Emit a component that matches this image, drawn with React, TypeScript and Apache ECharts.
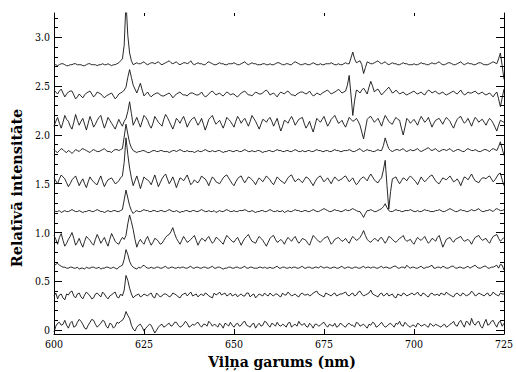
import React, { useEffect, useRef } from "react";
import * as echarts from "echarts";

// wavelength start (nm); integer-nm readings plus half-nm readings in between
const startNm = 600;

// baseline (relative intensity) of each spectrum, bottom to top
const offsets = [0.03, 0.35, 0.635, 0.91, 1.215, 1.52, 1.83, 2.12, 2.41, 2.72];

// deviations from baseline, in hundredths, read at 600, 601, ... 725 nm
const t0 = [
  -5, 4, 2, 7, -1, 6, 1, 8, 3, -2,
  5, 7, 0, 4, 6, -1, 3, 1, 4, 7,
  16, 9, -2, 0, 3, -4, 1, 2, -6, 0,
  3, 1, 4, 2, 5, 0, 3, 4, 1, 2,
  5, 0, 3, 6, 1, 2, 4, -1, 3, 5,
  0, 4, 2, 6, 1, 3, -1, 4, 2, 5,
  0, 3, 5, 1, 2, 4, 0, 3, 6, 2,
  1, 4, -1, 3, 2, 5, 0, 2, 4, 1,
  3, 0, 4, 2, 5, 1, 3, -1, 2, 4,
  1, 5, 0, 3, 2, 4, 6, 1, 3, 0,
  2, 4, 1, 3, 0, 2, 3, 1, 2, 0,
  3, 6, 1, 7, 0, 5, 9, 2, 6, -1,
  8, 3, 7, 0, 6, 4,
];
const t1 = [
  0, -3, 2, -4, 1, 5, -2, 3, -3, 4,
  0, -2, 3, -1, 2, -3, 1, 4, -2, 0,
  21, 8, -2, 1, -1, 2, 0, 3, -2, 1,
  0, 2, -1, 3, 1, -2, 2, 0, 4, 1,
  -1, 2, 3, 0, -2, 1, 4, 2, 0, 3,
  1, -1, 2, 0, 3, 1, -2, 2, 0, 1,
  3, 0, 2, -1, 1, 4, 0, 2, -1, 3,
  1, 0, 3, 5, 1, -1, 2, 0, 3, 1,
  2, 4, 0, 3, 1, 5, 0, 2, 6, 1,
  -1, 3, 1, 0, 2, -2, 1, 3, 0, 2,
  1, 4, 0, 2, -1, 3, 1, 0, 2, 4,
  1, -1, 3, 0, 2, 1, 5, 0, 3, 1,
  2, 0, 4, 1, 3, 2,
];
const t2 = [
  2, 5, 2, 1, 0, 1, 0, -1, 0, 1,
  0, 1, 0, -1, 0, 1, 0, 0, 1, 3,
  19, 7, 1, -1, 0, 3, 0, 1, 0, 1,
  0, 2, 0, 1, 0, 0, 1, 0, 2, 0,
  1, 0, 1, 0, 2, 0, 1, -1, 0, 1,
  0, 1, 0, 2, 0, 1, 0, 1, 0, 0,
  1, 0, 2, 0, 1, 0, 0, 1, 0, 2,
  0, 1, 0, 1, 2, 0, 1, 0, 1, 0,
  2, 0, 1, 0, 1, 0, 2, 1, 0, 1,
  0, 2, 1, 0, 1, 2, 0, 1, 3, 0,
  1, 0, 2, 0, 1, 3, 0, 1, 2, 0,
  1, 2, 0, 1, 0, 2, 1, 3, 0, 1,
  2, 0, 1, 3, 4, -2,
];
const t3 = [
  6, -3, 8, -5, 2, 9, -4, 3, -6, 5,
  1, -4, 7, -2, 4, -5, 8, 0, -3, 4,
  6, 27, 12, -6, 2, -3, 5, -4, 3, 0,
  -2, 4, 7, 14, 3, -3, 5, -1, 2, 6,
  -4, 3, 0, 5, -2, 4, 1, -3, 6, 2,
  -1, 4, -4, 3, 7, 0, -2, 5, 1, -5,
  3, 6, -1, 2, -3, 4, 0, 5, -2, 3,
  1, -4, 6, 2, -1, 3, 5, -3, 2, 4,
  0, 3, -2, 5, 1, 4, 11, 2, -1, 3,
  0, 4, -2, 5, 2, -1, 3, 6, 0, 2,
  -3, 4, 1, 5, -2, 3, 0, 6, -6, 2,
  4, -1, 3, 5, 0, 2, -3, 4, 6, 1,
  3, -2, 5, 7, 0, 4,
];
const t4 = [
  1, 0, -1, 1, 0, 2, 0, 1, -1, 0,
  1, 0, 2, 0, -1, 1, 0, 1, 0, 2,
  22, 6, -2, 1, 0, 2, 1, 0, 1, 0,
  1, 0, 2, 0, 1, -1, 0, 1, 0, 1,
  0, 2, 0, 1, 0, -1, 1, 0, 2, 0,
  1, 0, 1, 2, 0, 1, -1, 0, 1, 0,
  2, 0, 1, 0, -1, 1, 0, 2, 1, 0,
  1, 0, 2, 0, 1, 3, 1, 0, 2, 1,
  0, 2, 1, 3, 1, 0, -6, 1, 2, 0,
  1, 3, 8, 1, 0, 2, 1, 0, 1, 2,
  0, 1, 0, 2, 1, 0, 1, 2, 0, 1,
  3, 1, 0, 2, 1, 0, 2, 1, 3, 0,
  1, 2, 0, 3, 1, 2,
];
const t5 = [
  4, -2, 7, 3, -5, 2, 6, -4, 3, -6,
  5, 0, -3, 6, -5, 2, 4, -2, 1, 6,
  45, 14, -4, 6, -7, 5, 2, -3, 7, -5,
  3, 8, -2, 5, -6, 4, 1, 7, -3, 2,
  -1, 6, 3, -4, 5, 0, -2, 4, 7, 1,
  -4, 3, 6, -1, 5, 2, -3, 4, 0, 6,
  2, -3, 5, 1, -2, 4, 7, 0, 3, -1,
  5, 2, -4, 3, 6, 0, 4, -2, 5, 1,
  3, 6, 0, 4, -3, 2, 5, 1, 8, 2,
  -1, 4, 22, -28, 3, 5, -2, 4, 1, 6,
  2, -3, 5, 0, 4, 7, 1, -2, 4, 2,
  6, 0, 3, -4, 5, 2, 8, 1, -1, 4,
  3, 6, 0, 5, 9, -4,
];
const t6 = [
  2, -1, 3, 0, 1, -2, 2, 0, 3, 1,
  -1, 2, 0, 1, 3, 0, -1, 2, 1, 3,
  28, 9, 1, -1, 0, 1, -1, 0, 1, 0,
  1, 0, -1, 1, 0, 2, 0, 1, 0, -1,
  1, 0, 2, 0, 1, 0, 1, -1, 0, 1,
  0, 1, 0, 2, 0, 1, 0, 1, -1, 0,
  1, 0, 2, 1, 0, 1, 0, 2, 0, 1,
  0, 1, 0, 2, 1, 0, 1, 0, 2, 1,
  0, 1, 2, 0, 1, 3, 0, 2, 1, 0,
  2, 1, 14, 3, 0, 2, 1, 3, 0, 2,
  1, 3, 0, 2, 4, 1, 3, 0, 2, 1,
  3, 0, 2, 1, 0, 3, 1, 2, 0, 1,
  2, 0, 3, 1, 10, -4,
];
const t7 = [
  -3, 6, -5, 8, 2, -6, 9, -2, 5, -7,
  7, -4, 3, 8, -5, 6, 0, -6, 4, -3,
  5, 22, -2, 6, -4, 8, 3, -5, 7, 1,
  -3, 9, 2, -6, 5, 0, 7, -4, 3, 6,
  -2, 5, -7, 4, 8, -1, 3, -5, 6, 2,
  -4, 7, 0, 5, -3, 8, 2, -6, 4, 1,
  6, -3, 5, -8, 3, 0, 7, -2, 4, 6,
  -5, 2, -9, 5, 1, 7, -3, 4, 8, 0,
  3, -4, 6, 2, 5, -2, -16, 4, 7, 1,
  5, -3, 8, 2, -1, 6, 3, -12, 5, 0,
  4, -2, 7, 1, 6, -4, 3, 5, -1, 6,
  2, -5, 4, 7, 0, 5, -3, 6, 1, 4,
  -2, 5, 0, -8, 3, 1,
];
const t8 = [
  5, 1, 6, -2, 3, 4, -4, 1, -3, 2,
  4, -2, 3, 1, -3, 0, 2, -4, 1, 3,
  8, 26, 10, 2, 12, -1, 3, -2, 1, 2,
  -1, 0, 2, -3, 1, 3, 0, -1, 2, 1,
  0, 3, -2, 1, 4, 0, 2, -1, 3, 0,
  1, -2, 2, 4, 0, -1, 3, 1, 2, 5,
  0, 2, -2, 3, 1, 4, 0, -1, 2, 3,
  1, 4, -1, 2, 0, 3, 5, 1, 3, 6,
  2, 4, 20, -21, 5, 2, 7, 1, 14, 3,
  6, 0, 4, 8, 2, 5, 1, 3, 0, 2,
  4, 1, 3, 0, 5, 2, 4, 1, 3, 0,
  2, 4, 1, 5, 0, 3, 2, 4, 1, 3,
  0, 2, -2, 3, -12, 6,
];
const t9 = [
  0, -1, 1, 0, -1, 0, 1, 0, -1, 0,
  1, 0, -1, 0, 0, 1, -1, 0, 2, 6,
  65, 12, 0, 2, 1, 3, 0, 2, 1, 3,
  0, 2, 4, 1, 3, 0, 2, 1, 4, 0,
  2, 1, 0, 3, 1, 0, 2, 1, 0, 1,
  2, 0, 1, 3, 0, 2, 1, 0, 1, 0,
  1, 0, 2, 1, 0, 1, 0, 3, 1, 0,
  1, 0, 2, 0, 1, 0, 1, 2, 0, 1,
  0, 2, 1, 13, 2, 4, -9, 3, 1, 2,
  4, 1, 3, 0, 2, 1, 0, 2, 1, 0,
  1, 0, 2, 1, 0, 2, 1, 3, 0, 1,
  2, 0, 1, 3, 0, 2, 1, 0, 2, 1,
  0, 1, 3, 1, 12, -15,
];

// deviations read at the half-nm points 600.5, 601.5, ... 724.5
const h0 = [
  1, 5, 3, 2, 4, 0, 5, 6, -1, 2,
  8, 3, 2, 7, 1, 4, -1, 5, 6, 10,
  12, 2, -4, 2, 0, -1, 3, -2, -3, 2,
  0, 3, 1, 5, 2, 1, 6, 0, 3, 4,
  2, 3, 1, 4, 3, 0, 2, 4, 1, 2,
  3, 1, 5, 2, 0, 4, 2, 1, 6, 2,
  4, 1, 2, 3, 0, 5, 2, 1, 3, 4,
  0, 2, 3, 1, 4, 2, 3, 1, 0, 4,
  1, 3, 2, 0, 4, 2, 1, 3, 5, 0,
  3, 2, 1, 4, 0, 3, 2, 5, 1, 2,
  0, 3, 2, 1, 4, 1, 2, 0, 3, 1,
  4, 2, 5, 3, 6, 2, 4, 5, 1, 4,
  2, 6, 3, 5, 1,
];
const h1 = [
  3, 1, -2, 2, 4, 0, 2, -1, 1, 2,
  -3, 2, 1, 4, -1, 0, 3, -1, 2, 6,
  16, 2, 0, 2, 0, 1, 2, -1, 3, -1,
  2, 1, 0, 2, -1, 1, 3, 2, 0, 2,
  1, 0, 2, -1, 3, 2, 1, 3, 1, 0,
  2, 1, 0, 3, -1, 2, 0, 1, 3, 0,
  1, 2, 0, 3, 1, 2, 1, 0, 2, 1,
  2, 1, 4, 2, 0, 3, 1, 2, 0, 2,
  3, 1, 2, 0, 4, 2, 1, 3, 2, 0,
  2, 0, 3, 1, -1, 2, 0, 2, 1, 3,
  2, 1, 3, 0, 2, 1, 2, 3, 1, 2,
  0, 2, 1, 3, 0, 2, 3, 1, 2, 0,
  3, 1, 2, 0, 2,
];
const h2 = [
  4, 3, 1, 0, 1, 0, 1, 0, -1, 0,
  1, 0, 1, 0, 1, 0, 1, -1, 2, 9,
  14, 3, 0, 1, 2, 1, 0, 0, 1, 0,
  1, 0, 1, 0, 1, 1, 0, 1, 0, 1,
  0, 1, 0, 1, 0, 1, 0, 0, 1, 0,
  1, 0, 1, 0, 1, 0, 0, 1, 1, 0,
  0, 1, 0, 1, 0, 1, 1, 0, 1, 0,
  1, 0, 1, 0, 1, 1, 0, 1, 0, 1,
  0, 1, 0, 1, 0, 1, 0, 1, 1, 0,
  1, 0, 1, 0, 2, 0, 1, 0, 1, 1,
  0, 1, 0, 1, 2, 0, 1, 0, 1, 0,
  2, 0, 1, 0, 1, 0, 2, 1, 0, 2,
  0, 1, 2, 0, 3,
];
const h3 = [
  2, 4, 1, -2, 5, 3, -1, -2, 0, 3,
  -2, 2, 3, 1, -1, 2, 4, -2, 1, 2,
  18, 20, 2, -1, -1, 2, 0, -1, 2, -3,
  1, 6, 10, 8, 0, 1, 2, 0, 4, 1,
  0, 2, 3, 1, 0, 3, -1, 2, 4, 0,
  2, 0, 0, 5, 3, -1, 2, 3, -2, -1,
  5, 2, 0, 0, 1, 2, 3, 1, 0, 2,
  -2, 1, 4, 0, 1, 4, 1, -1, 3, 2,
  1, 0, 2, 3, 2, 7, 6, 0, 1, 2,
  3, 1, 1, 4, 0, 1, 4, 2, 1, -1,
  1, 2, 3, 1, 0, 2, 4, 0, -2, 3,
  1, 2, 4, 2, 1, 0, 1, 5, 3, 2,
  0, 2, 6, 3, 2,
];
const h4 = [
  0, 1, 0, 0, 1, 1, 0, 0, 0, 1,
  0, 1, 1, 0, 0, 0, 1, 0, 1, 12,
  14, 1, 0, 0, 1, 1, 0, 1, 0, 1,
  0, 1, 1, 0, 0, 0, 1, 0, 1, 0,
  1, 1, 0, 0, 1, 0, 0, 1, 1, 0,
  0, 1, 1, 1, 0, 0, 0, 1, 0, 1,
  1, 0, 0, 1, 0, 0, 1, 1, 0, 1,
  0, 1, 1, 0, 2, 2, 0, 1, 1, 0,
  1, 1, 2, 2, 0, -3, -2, 1, 1, 0,
  2, 5, 4, 0, 1, 1, 0, 1, 1, 1,
  0, 0, 1, 1, 0, 0, 1, 1, 0, 2,
  2, 0, 1, 1, 0, 1, 1, 2, 1, 0,
  1, 1, 2, 2, 1,
];
const h5 = [
  1, 3, 5, -1, -2, 4, 1, 0, -2, 0,
  2, -2, 2, 0, -1, 3, 1, -1, 4, 20,
  28, 4, 1, 0, -1, 3, 0, 2, 1, -1,
  6, 3, 1, 0, -1, 3, 4, 2, -1, 0,
  2, 4, 0, 1, 3, -1, 1, 6, 4, -2,
  0, 5, 2, 2, 4, 0, 1, 2, 3, 4,
  -1, 1, 3, 0, 1, 6, 3, 2, 1, 2,
  4, -1, 0, 5, 3, 2, 1, 2, 3, 2,
  5, 3, 2, 0, -1, 4, 3, 5, 5, 0,
  2, 12, -4, -10, 4, 1, 1, 3, 4, 4,
  0, 1, 2, 2, 6, 4, -1, 1, 3, 4,
  3, 1, 0, 1, 4, 5, 4, 0, 2, 4,
  5, 3, 2, 8, 2,
];
const h6 = [
  0, 1, 2, -1, 0, 0, 1, 2, 2, 0,
  1, 1, 0, 2, 1, 0, 1, 2, 2, 15,
  18, 4, 0, 0, 1, 0, -1, 1, 0, 1,
  0, 0, 0, 1, 1, 1, 0, 0, 0, 0,
  0, 1, 1, 0, 0, 1, 0, 0, 1, 0,
  1, 0, 1, 1, 0, 0, 1, 0, 0, 1,
  0, 1, 1, 0, 1, 0, 1, 1, 0, 0,
  1, 0, 1, 1, 0, 1, 0, 1, 1, 0,
  1, 1, 1, 0, 2, 1, 1, 1, 0, 1,
  1, 6, 8, 1, 1, 2, 2, 1, 1, 1,
  2, 1, 1, 3, 2, 2, 1, 1, 2, 2,
  1, 1, 2, 0, 2, 2, 1, 1, 0, 2,
  1, 2, 2, 5, 3,
];
const h7 = [
  2, 0, 1, 4, -3, 1, 3, 2, -1, 0,
  2, -1, 6, 1, 0, 3, -3, -1, 0, 2,
  12, 10, 2, 1, 2, 6, -2, 0, 4, -1,
  4, 6, -2, -1, 3, 4, 2, 0, 5, 2,
  1, -1, -2, 6, 3, 1, -1, 0, 4, -1,
  2, 4, 3, 1, 2, 5, -2, -1, 3, 4,
  2, 1, -2, -3, 2, 4, 3, 1, 5, 0,
  -2, -4, -2, 3, 4, 2, 0, 6, 4, 1,
  -1, 1, 4, 3, 2, -9, -6, 6, 4, 3,
  1, 3, 5, 0, 3, 4, -5, -4, 3, 2,
  1, 3, 4, 3, 1, 0, 4, 2, 3, 4,
  -2, 0, 6, 3, 2, 1, 2, 4, 3, 1,
  2, 3, -4, -2, 2,
];
const h8 = [
  3, 4, 2, 1, 4, 0, -2, -1, 0, 3,
  1, 0, 2, -1, -1, 1, -1, -2, 2, 5,
  18, 18, 6, 7, 5, 1, 0, 0, 2, 0,
  -1, 1, 0, -1, 2, 1, 0, 1, 2, 0,
  1, 0, -1, 3, 2, 1, 0, 1, 2, 1,
  -1, 0, 3, 2, 0, 1, 2, 1, 4, 3,
  1, 0, 1, 2, 3, 2, 0, 1, 3, 2,
  2, 1, 0, 1, 2, 4, 3, 2, 4, 4,
  3, 10, 0, -6, 4, 5, 4, 8, 9, 5,
  3, 2, 6, 5, 3, 3, 2, 1, 1, 3,
  2, 2, 1, 3, 4, 3, 2, 2, 1, 1,
  3, 2, 3, 2, 1, 2, 3, 2, 2, 1,
  1, 0, 1, -4, -3,
];
const h9 = [
  0, 0, 1, -1, 0, 1, 0, 0, -1, 1,
  0, 0, 0, 1, 0, 0, 0, 1, 4, 20,
  30, 4, 1, 1, 2, 1, 1, 2, 2, 1,
  1, 3, 2, 2, 1, 1, 2, 2, 1, 1,
  1, 0, 2, 2, 0, 1, 1, 0, 1, 1,
  1, 0, 2, 1, 1, 1, 0, 0, 1, 0,
  0, 1, 2, 0, 1, 0, 2, 2, 0, 1,
  0, 1, 1, 0, 0, 1, 1, 1, 0, 0,
  1, 1, 7, 6, 3, 0, -3, 2, 1, 3,
  2, 2, 1, 1, 1, 0, 1, 1, 0, 0,
  0, 1, 1, 0, 1, 1, 2, 1, 0, 2,
  1, 0, 2, 1, 1, 1, 0, 1, 2, 0,
  0, 2, 2, 6, -1,
];
const whole = [t0, t1, t2, t3, t4, t5, t6, t7, t8, t9];
const halves = [h0, h1, h2, h3, h4, h5, h6, h7, h8, h9];

const xTicks = [600, 625, 650, 675, 700, 725];
const yMajor = [0, 0.5, 1.0, 1.5, 2.0, 2.5, 3.0];
const yMinor = [0.1, 0.2, 0.3, 0.4, 0.6, 0.7, 0.8, 0.9, 1.1, 1.2, 1.3, 1.4, 1.6, 1.7, 1.8, 1.9, 2.1, 2.2, 2.3, 2.4, 2.6, 2.7, 2.8, 2.9, 3.1, 3.2];
const xTitle = "Viļņa garums (nm)";
const yTitle = "Relatīvā intensitāte";

const SERIF = "DejaVu Serif";
const SERIF_NARROW = "DejaVu Serif Condensed, DejaVu Serif";
const YMIN = -0.04;
const YMAX = 3.25;

function buildTrace(k: number): number[][] {
  const out: number[][] = [];
  const w = whole[k];
  const h = halves[k];
  for (let i = 0; i < w.length; i++) {
    out.push([startNm + i, offsets[k] + w[i] / 100]);
    if (i < h.length) out.push([startNm + i + 0.5, offsets[k] + h[i] / 100]);
  }
  return out;
}

export default function App() {
  const ref = useRef<HTMLDivElement>(null);
  useEffect(() => {
    if (!ref.current) return;
    const chart = echarts.init(ref.current, null, { renderer: "svg" });
    const yBase = {
      type: "value",
      min: YMIN,
      max: YMAX,
      splitLine: { show: false },
    };
    const majorAxis = (pos: string, labels: boolean) => ({
      ...yBase,
      position: pos,
      axisLine: { show: true, lineStyle: { color: "#000", width: 1 } },
      axisTick: { show: true, inside: true, length: 8, customValues: yMajor, lineStyle: { color: "#000" } },
      axisLabel: {
        show: labels,
        customValues: yMajor,
        margin: 4,
        fontFamily: SERIF_NARROW,
        fontSize: 10.5,
        color: "#000",
        formatter: (v: number) => (v === 0 ? "0" : v.toFixed(1)),
      },
    });
    const minorAxis = (pos: string) => ({
      ...yBase,
      position: pos,
      axisLine: { show: false },
      axisTick: { show: true, inside: true, length: 4, customValues: yMinor, lineStyle: { color: "#000" } },
      axisLabel: { show: false, customValues: yMinor },
    });
    chart.setOption({
      animation: false,
      backgroundColor: "#fff",
      textStyle: { fontFamily: SERIF },
      grid: { left: 54, right: 8, top: 13, bottom: 38 },
      xAxis: [
        {
          type: "value",
          position: "bottom",
          min: 600,
          max: 725,
          interval: 25,
          axisLine: { show: true, onZero: false, lineStyle: { color: "#000", width: 1 } },
          axisTick: { show: true, inside: true, length: 5, lineStyle: { color: "#000" } },
          axisLabel: { fontFamily: SERIF_NARROW, fontSize: 10.5, color: "#000", margin: 4, customValues: xTicks },
          splitLine: { show: false },
        },
        {
          type: "value",
          position: "top",
          min: 600,
          max: 725,
          interval: 25,
          axisLine: { show: false, onZero: false },
          axisTick: { show: true, inside: true, length: 3, lineStyle: { color: "#000" } },
          axisLabel: { show: false },
          splitLine: { show: false },
        },
      ],
      yAxis: [majorAxis("left", true), minorAxis("left"), majorAxis("right", false), minorAxis("right")],
      series: whole.map((_, k) => ({
        type: "line",
        xAxisIndex: 0,
        yAxisIndex: 0,
        showSymbol: false,
        symbol: "none",
        silent: true,
        lineStyle: { color: "#111", width: 0.9 },
        data: buildTrace(k),
      })),
      graphic: [
        {
          type: "text",
          x: 282,
          y: 362,
          style: {
            text: xTitle,
            fontFamily: SERIF,
            fontWeight: "bold",
            fontSize: 14,
            fill: "#000",
            textAlign: "center",
            textVerticalAlign: "middle",
          },
        },
        {
          type: "text",
          x: 17,
          y: 188,
          rotation: Math.PI / 2,
          scaleX: 1.03,
          style: {
            text: yTitle,
            fontFamily: SERIF,
            fontWeight: "bold",
            fontSize: 14,
            fill: "#000",
            textAlign: "center",
            textVerticalAlign: "middle",
          },
        },
      ],
    });
    return () => chart.dispose();
  }, []);
  return <div ref={ref} style={{ width: 516, height: 372, position: "absolute", left: 0, top: 0 }} />;
}
